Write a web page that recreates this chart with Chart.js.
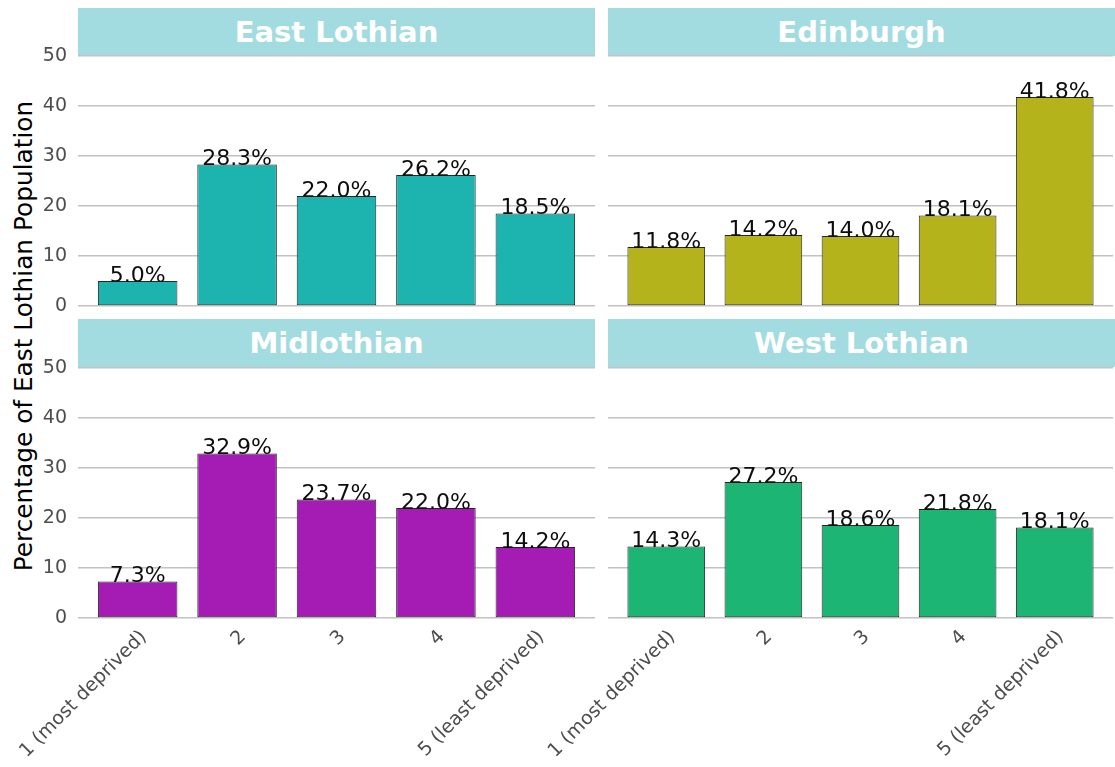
<!DOCTYPE html>
<html><head><meta charset="utf-8">
<script src="https://cdn.jsdelivr.net/npm/chart.js@4"></script>
<style>
html,body{margin:0;padding:0;background:#fff;width:1115px;height:767px;overflow:hidden;position:relative;}
canvas{position:absolute;}
.strip{position:absolute;background:#a3dce0;color:#fff;font:bold 29px "DejaVu Sans";display:flex;align-items:center;justify-content:center;}
#ytitle{position:absolute;font:24.8px "DejaVu Sans";color:#000;white-space:nowrap;left:23px;top:336px;transform:translate(-50%,-50%) rotate(-90deg);}
</style></head><body>
<div class="strip" style="left:78px;top:8px;width:517px;height:48px;">East Lothian</div>
<div class="strip" style="left:608px;top:8px;width:507px;height:48px;">Edinburgh</div>
<div class="strip" style="left:78px;top:319px;width:517px;height:48px;">Midlothian</div>
<div class="strip" style="left:608px;top:319px;width:507px;height:48px;">West Lothian</div>
<div id="ytitle">Percentage of East Lothian Population</div>
<canvas id="c1" width="595" height="290" style="left:0;top:36px"></canvas>
<canvas id="c2" width="585" height="290" style="left:528px;top:36px"></canvas>
<canvas id="c3" width="595" height="420" style="left:0;top:347.5px"></canvas>
<canvas id="c4" width="585" height="420" style="left:528px;top:347.5px"></canvas>
<script>
const categories = ["1 (most deprived)", "2", "3", "4", "5 (least deprived)"];
const eastLothian = [5.0, 28.3, 22.0, 26.2, 18.5];
const edinburgh = [11.8, 14.2, 14.0, 18.1, 41.8];
const midlothian = [7.3, 32.9, 23.7, 22.0, 14.2];
const westLothian = [14.3, 27.2, 18.6, 21.8, 18.1];
const yTicks = [0, 10, 20, 30, 40, 50];

const valueLabels = {
  id: 'valueLabels',
  afterDatasetsDraw(chart) {
    const ctx = chart.ctx;
    const meta = chart.getDatasetMeta(0);
    const ds = chart.data.datasets[0].data;
    ctx.save();
    ctx.font = '22px "DejaVu Sans"';
    ctx.fillStyle = '#0d0d0d';
    ctx.textAlign = 'center';
    ctx.textBaseline = 'alphabetic';
    meta.data.forEach((bar, i) => {
      ctx.fillText(ds[i].y.toFixed(1) + '%', bar.x, bar.y + 0.5);
    });
    ctx.restore();
  }
};

function makeChart(id, values, color, showY, showX) {
  const yw = showY ? 78 : 80;
  new Chart(document.getElementById(id), {
    type: 'bar',
    data: {
      datasets: [{
        data: values.map((v, i) => ({x: i + 1, y: v})),
        backgroundColor: color,
        borderColor: '#262626',
        borderWidth: 1,
        borderSkipped: false,
        barPercentage: 0.8,
        categoryPercentage: 1.0
      }]
    },
    options: {
      responsive: false,
      animation: false,
      devicePixelRatio: 1,
      layout: {padding: {top: 20, bottom: showX ? 0 : 20, left: 0, right: 0}},
      plugins: {legend: {display: false}, tooltip: {enabled: false}},
      scales: {
        x: {
          type: 'linear',
          min: 0.4, max: 5.6,
          offset: false,
          display: showX,
          grid: {display: false, offset: false},
          border: {display: false},
          afterBuildTicks: s => { s.ticks = categories.map((c, i) => ({value: i + 1})); },
          afterFit: s => {
            if (showX) { s.height = 150; } else { s.height = 0; }
            s.paddingLeft = 0; s.paddingRight = 0;
          },
          ticks: {
            autoSkip: false,
            minRotation: 45, maxRotation: 45,
            padding: 0,
            labelOffset: 6,
            color: '#4d4d4d',
            font: {family: 'DejaVu Sans', size: 19},
            callback: v => categories[v - 1]
          }
        },
        y: {
          min: 0, max: 50,
          grid: {color: '#c2c2c2', lineWidth: 1.6, drawTicks: false},
          border: {display: false},
          afterBuildTicks: s => { s.ticks = yTicks.map(v => ({value: v})); },
          afterFit: s => { s.width = yw; s.paddingTop = 0; s.paddingBottom = 0; },
          ticks: {
            display: showY,
            padding: 11,
            color: '#4d4d4d',
            font: {family: 'DejaVu Sans', size: 19}
          }
        }
      }
    },
    plugins: [valueLabels]
  });
}

makeChart('c1', eastLothian, '#1db4b0', true, false);
makeChart('c2', edinburgh, '#b5b31b', false, false);
makeChart('c3', midlothian, '#a51cb5', true, true);
makeChart('c4', westLothian, '#1cb573', false, true);
</script>
</body></html>
